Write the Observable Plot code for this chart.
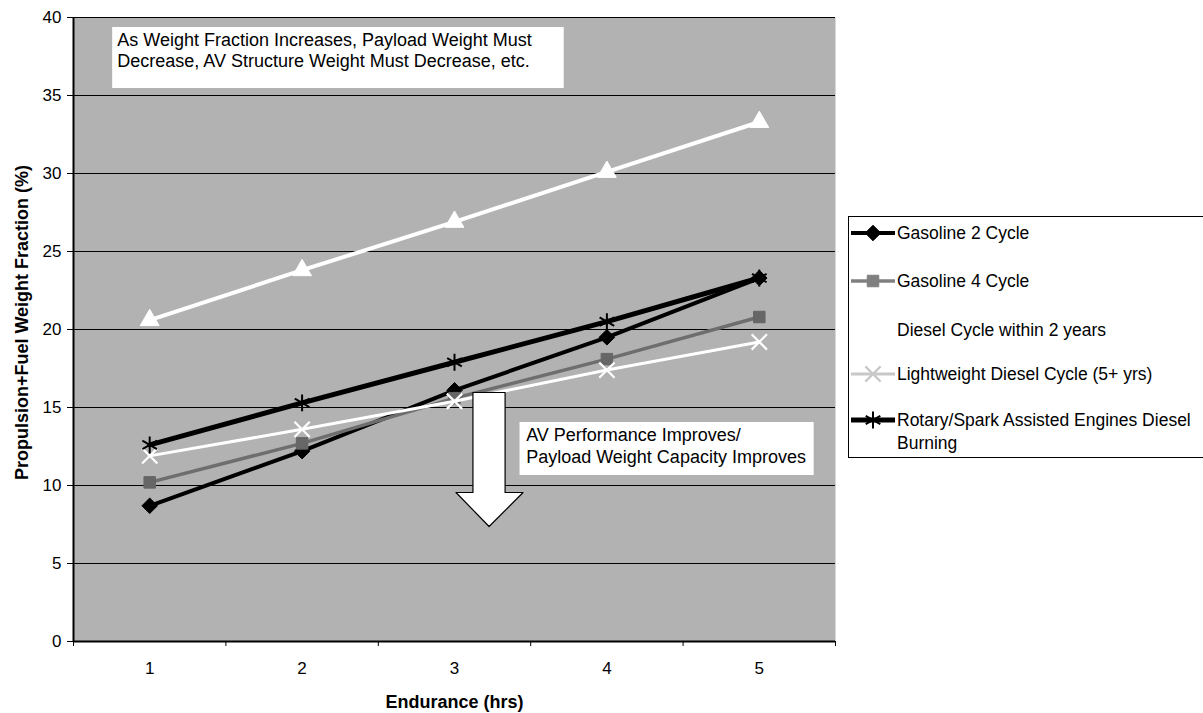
<!DOCTYPE html>
<html>
<head>
<meta charset="utf-8">
<script src="https://cdn.jsdelivr.net/npm/d3@7"></script>
<script src="https://cdn.jsdelivr.net/npm/@observablehq/plot@0.6"></script>
<style>
  body { margin: 0; background: #fff; }
  #wrap { position: relative; width: 1203px; height: 713px; }
  svg { font-family: Arial, "Liberation Sans", sans-serif; }
</style>
</head>
<body>
<div id="wrap"></div>
<script>
// ---- Data ----
const hours = [1, 2, 3, 4, 5];
const xTickLabels = ["1", "2", "3", "4", "5"];
const yTicks = [0, 5, 10, 15, 20, 25, 30, 35, 40];
const seriesNames = [
  "Gasoline 2 Cycle",
  "Gasoline 4 Cycle",
  "Diesel Cycle within 2 years",
  "Lightweight Diesel Cycle (5+ yrs)",
  "Rotary/Spark Assisted Engines Diesel Burning"
];
const gasoline2 = [8.7, 12.2, 16.1, 19.5, 23.3];
const gasoline4 = [10.2, 12.7, 15.6, 18.1, 20.8];
const diesel2yr = [20.6, 23.8, 26.9, 30.1, 33.3];
const lightDiesel = [11.9, 13.6, 15.4, 17.4, 19.2];
const rotary = [12.6, 15.3, 17.9, 20.5, 23.3];
const noteTop = ["As Weight Fraction Increases, Payload Weight Must", "Decrease, AV Structure Weight Must Decrease, etc."];
const noteBottom = ["AV Performance Improves/", "Payload Weight Capacity Improves"];
const xTitle = "Endurance (hrs)";
const yTitle = "Propulsion+Fuel Weight Fraction (%)";

const seriesValues = [gasoline2, gasoline4, diesel2yr, lightDiesel, rotary];

// ---- Styles ----
const styles = [
  {line: "#000", lw: 4, symbol: "diamond2", fill: "#000", stroke: "#000", sw: 1, r: 7, leg: "#000"},
  {line: "#6e6e6e", lw: 3.5, symbol: "square", fill: "#666", stroke: "#666", sw: 1, r: 6.5, leg: "#808080"},
  {line: "#fff", lw: 4, symbol: "triangle", fill: "#fff", stroke: "#fff", sw: 1, r: 7, leg: "#fff"},
  {line: "#fff", lw: 3, symbol: "times", fill: "none", stroke: "#fff", sw: 2.2, r: 7, leg: "#c8c8c8"},
  {line: "#000", lw: 5, symbol: "asterisk", fill: "none", stroke: "#000", sw: 2, r: 8, leg: "#000"}
];

const rows = seriesValues.flatMap((vals, i) =>
  vals.map((v, j) => ({series: seriesNames[i], k: i, hour: hours[j], value: v}))
);

const seriesMarks = seriesNames.flatMap((name, i) => {
  const data = rows.filter(d => d.k === i);
  const s = styles[i];
  return [
    Plot.line(data, {x: "hour", y: "value", stroke: s.line, strokeWidth: s.lw}),
    Plot.dot(data, {x: "hour", y: "value", symbol: s.symbol, r: s.r, fill: s.fill, stroke: s.stroke, strokeWidth: s.sw})
  ];
});

const arrowPts = [[3.121, 15.96], [3.332, 15.96], [3.332, 9.55], [3.45, 9.55], [3.227, 7.37], [3.01, 9.55], [3.121, 9.55], [3.121, 15.96]];

const plot = Plot.plot({
  width: 1203,
  height: 713,
  marginLeft: 73,
  marginRight: 368,
  marginTop: 17,
  marginBottom: 72,
  x: {type: "linear", domain: [0.5, 5.5]},
  y: {domain: [0, 40]},
  style: {fontFamily: "Arial, 'Liberation Sans', sans-serif", fontSize: "16px", color: "#000", background: "#fff"},
  marks: [
    Plot.frame({fill: "#b2b2b2", stroke: null}),
    Plot.ruleY(yTicks, {stroke: "#000", strokeWidth: 1}),
    // top annotation box
    Plot.rect([{a: 0.757, b: 3.72, c: 35.45, d: 39.36}], {x1: "a", x2: "b", y1: "c", y2: "d", fill: "#fff"}),
    Plot.text(noteTop, {x: () => 0.787, y: (d, i) => [38.56, 37.18][i], text: d => d, textAnchor: "start", fontSize: 18, fill: "#000"}),
    ...seriesMarks,
    // down arrow
    Plot.line(arrowPts, {x: d => d[0], y: d => d[1], fill: "#fff", stroke: "#000", strokeWidth: 1.2}),
    // bottom annotation box
    Plot.rect([{a: 3.43, b: 5.36, c: 10.64, d: 14.04}], {x1: "a", x2: "b", y1: "c", y2: "d", fill: "#fff"}),
    Plot.text(noteBottom, {x: () => 3.47, y: (d, i) => [13.2, 11.8][i], text: d => d, textAnchor: "start", fontSize: 18, fill: "#000"}),
    // axis lines
    Plot.ruleX([0.5], {stroke: "#000", strokeWidth: 2}),
    Plot.ruleY([0], {stroke: "#000", strokeWidth: 2}),
    Plot.axisY({ticks: yTicks, tickSize: 6, tickPadding: 6, fontSize: 17, label: null}),
    Plot.axisX({ticks: [0.5, 1.5, 2.5, 3.5, 4.5, 5.5], tickSize: 5, tickFormat: () => "", label: null}),
    Plot.axisX({ticks: hours, tickSize: 0, tickPadding: 20, fontSize: 17, tickFormat: (d) => xTickLabels[hours.indexOf(d)], label: null}),
    Plot.text([xTitle], {frameAnchor: "bottom", textAnchor: "middle", lineAnchor: "middle", dy: 61, fontSize: 18, fontWeight: "bold", fill: "#000"}),
    Plot.text([yTitle], {frameAnchor: "left", textAnchor: "middle", lineAnchor: "middle", dx: -51, dy: -7, rotate: -90, fontSize: 18, fontWeight: "bold", fill: "#000"})
  ]
});

document.getElementById("wrap").appendChild(plot);

// ---- Legend (drawn inside the same SVG) ----
const svg = d3.select(plot);
const leg = svg.append("g").attr("class", "legend").attr("text-anchor", "start");
leg.append("rect").attr("x", 848.5).attr("y", 216.5).attr("width", 370).attr("height", 241)
  .attr("fill", "#fff").attr("stroke", "#000").attr("stroke-width", 1);
const rowY = [233, 281, 330, 374, 420];
const symMap = {diamond2: d3.symbolDiamond2, square: d3.symbolSquare, triangle: d3.symbolTriangle, times: d3.symbolTimes, asterisk: d3.symbolAsterisk};
seriesNames.forEach((name, i) => {
  const s = styles[i];
  const y = rowY[i];
  leg.append("line").attr("x1", 851).attr("x2", 895).attr("y1", y).attr("y2", y)
    .attr("stroke", s.leg).attr("stroke-width", s.lw);
  const isStroke = s.fill === "none";
  leg.append("path")
    .attr("d", d3.symbol(symMap[s.symbol], s.r * s.r * Math.PI)())
    .attr("transform", `translate(873,${y})`)
    .attr("fill", isStroke ? "none" : s.leg)
    .attr("stroke", s.leg)
    .attr("stroke-width", s.sw);
  const t = leg.append("text").attr("x", 897).attr("y", y).attr("dy", "0.35em")
    .attr("text-anchor", "start").attr("font-size", 17.5).attr("fill", "#000");
  if (i === 4) {
    t.text("Rotary/Spark Assisted Engines Diesel");
    leg.append("text").attr("x", 897).attr("y", y + 23).attr("dy", "0.35em")
      .attr("text-anchor", "start").attr("font-size", 17.5).attr("fill", "#000").text("Burning");
  } else {
    t.text(name);
  }
});
</script>
</body>
</html>
